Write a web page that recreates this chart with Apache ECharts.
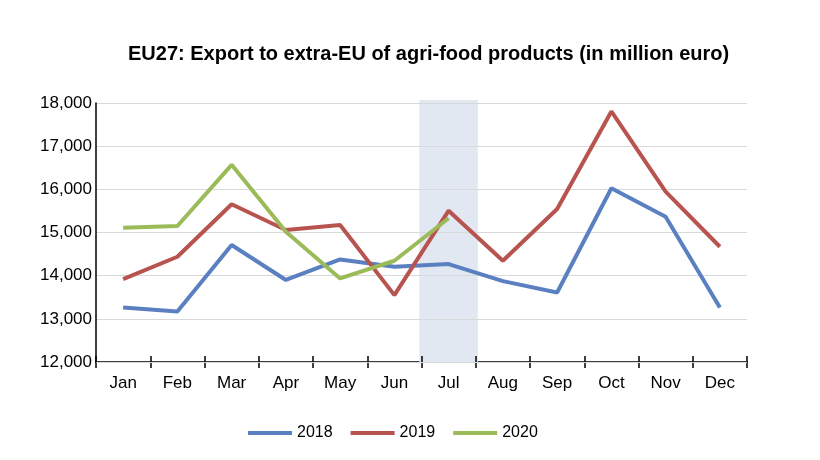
<!DOCTYPE html>
<html>
<head>
<meta charset="utf-8">
<script src="https://cdn.jsdelivr.net/npm/echarts@6/dist/echarts.min.js"></script>
<style>html,body{margin:0;padding:0;background:#fff}#c{width:820px;height:460px}</style>
</head>
<body>
<div id="c"></div>
<script>
const months = ['Jan','Feb','Mar','Apr','May','Jun','Jul','Aug','Sep','Oct','Nov','Dec'];
const s2018 = [13265,13170,14710,13900,14375,14205,14268,13873,13611,16026,15367,13263];
const s2019 = [13920,14438,15654,15058,15174,13549,15506,14345,15545,17805,15947,14670];
const s2020 = [15111,15150,16567,15018,13936,14345,15329,null,null,null,null,null];
const highlightMonth = 'Jul';
const highlightBase = 12000;
const highlightTop = 18070;
const yTicks = { min: 12000, max: 18000, interval: 1000 };

const font = 'Liberation Sans, Arial, sans-serif';
const baseData = months.map(m => m === highlightMonth ? highlightBase : null);
const bandData = months.map(m => m === highlightMonth ? highlightTop - highlightBase : null);

const chart = echarts.init(document.getElementById('c'), null, {renderer:'canvas'});
chart.setOption({
  animation: false,
  title: {
    text: 'EU27: Export to extra-EU of agri-food products (in million euro)',
    left: 123, top: 39,
    textStyle: { fontFamily: font, fontSize: 20, fontWeight: 'bold', color: '#000' }
  },
  legend: {
    data: ['2018','2019','2020'],
    left: 243, top: 420,
    itemWidth: 44, itemHeight: 4, itemGap: 18,
    icon: 'rect',
    textStyle: { fontFamily: font, fontSize: 16, color: '#000' }
  },
  grid: { left: 96, right: 73, top: 103, bottom: 98, containLabel: false },
  xAxis: [{
    type: 'category', data: months, boundaryGap: true,
    axisLine: { show: true, lineStyle: { color: '#000', width: 1.5 } },
    axisTick: { show: true, alignWithLabel: false, length: 6, lineStyle: { color: '#000', width: 1.5 } },
    axisLabel: { fontFamily: font, fontSize: 17, color: '#000', margin: 13 },
    splitLine: { show: false }
  },{
    type: 'category', data: months, boundaryGap: true, position: 'bottom',
    axisLine: { show: false },
    axisTick: { show: true, inside: true, length: 6, lineStyle: { color: '#000', width: 1.5 } },
    axisLabel: { show: false },
    splitLine: { show: false }
  }],
  yAxis: {
    type: 'value', min: yTicks.min, max: yTicks.max, interval: yTicks.interval, z: 1,
    axisLine: { show: true, lineStyle: { color: '#000', width: 1.5 } },
    axisTick: { show: false },
    axisLabel: { fontFamily: font, fontSize: 17, color: '#000', margin: 4,
      formatter: v => v.toLocaleString('en-US') },
    splitLine: { show: true, lineStyle: { color: '#d9d9d9', width: 1.2 } }
  },
  series: [
    { type: 'bar', stack: 'band', data: baseData, barWidth: '108%', clip: false, z: 0, silent: true,
      itemStyle: { color: 'rgba(0,0,0,0)' } },
    { type: 'bar', stack: 'band', data: bandData, barWidth: '108%', clip: false, z: 0, silent: true,
      itemStyle: { color: '#e2e8f2' } },
    { name: '2018', type: 'line', data: s2018, showSymbol: false, symbol: 'none', z: 3,
      lineStyle: { color: '#5b80c2', width: 4 }, itemStyle: { color: '#5b80c2' } },
    { name: '2019', type: 'line', data: s2019, showSymbol: false, symbol: 'none', z: 3,
      lineStyle: { color: '#b85450', width: 4 }, itemStyle: { color: '#b85450' } },
    { name: '2020', type: 'line', data: s2020, showSymbol: false, symbol: 'none', z: 3,
      lineStyle: { color: '#9bbb59', width: 4 }, itemStyle: { color: '#9bbb59' } }
  ]
});
</script>
</body>
</html>
